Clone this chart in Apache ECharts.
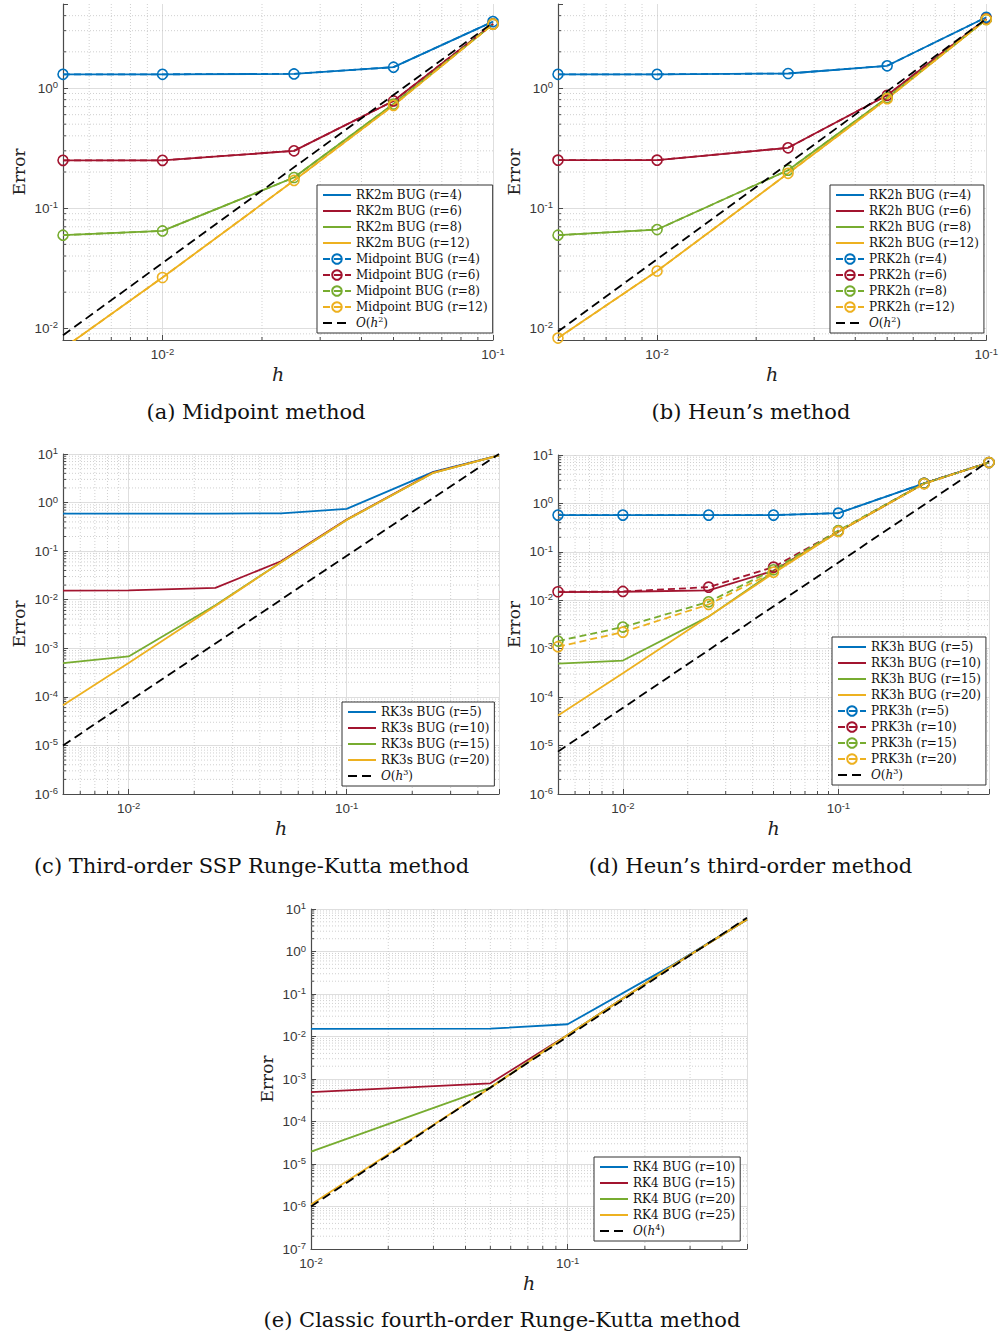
<!DOCTYPE html>
<html>
<head>
<meta charset="utf-8">
<script src="https://cdn.jsdelivr.net/npm/echarts@6/dist/echarts.min.js"></script>
<style>
  html, body { margin: 0; padding: 0; background: #fff; }
  #chart { width: 1001px; height: 1338px; }
</style>
</head>
<body>
<div id="chart"></div>
<script>
// Colours of the four rank levels (blue, red, green, yellow)
const BLUE = '#0072BD', RED = '#A2142F', GREEN = '#77AC30', YELLOW = '#EDB120';

// ---------- (a) Midpoint method ----------
const hA = [0.005, 0.01, 0.025, 0.05, 0.1];
const rk2m_r4  = [1.30, 1.30, 1.31, 1.49, 3.57];
const rk2m_r6  = [0.25, 0.25, 0.30, 0.78, 3.41];
const rk2m_r8  = [0.0596, 0.0647, 0.180, 0.735, 3.40];
const rk2m_r12 = [0.0068, 0.0265, 0.170, 0.717, 3.40];
const mid_r4   = [1.30, 1.30, 1.31, 1.49, 3.57];
const mid_r6   = [0.25, 0.25, 0.30, 0.78, 3.41];
const mid_r8   = [0.0596, 0.0647, 0.180, 0.735, 3.40];
const mid_r12  = [0.0068, 0.0265, 0.170, 0.717, 3.40];
const refA_h   = [0.005, 0.1];
const refA     = [0.00875, 3.5];

// ---------- (b) Heun's method ----------
const hB = [0.005, 0.01, 0.025, 0.05, 0.1];
const rk2h_r4  = [1.30, 1.30, 1.32, 1.53, 3.88];
const rk2h_r6  = [0.251, 0.251, 0.318, 0.87, 3.76];
const rk2h_r8  = [0.0596, 0.0664, 0.207, 0.83, 3.72];
const rk2h_r12 = [0.0083, 0.030, 0.195, 0.815, 3.72];
const prk2h_r4  = [1.30, 1.30, 1.32, 1.53, 3.88];
const prk2h_r6  = [0.251, 0.251, 0.318, 0.87, 3.76];
const prk2h_r8  = [0.0596, 0.0664, 0.207, 0.83, 3.72];
const prk2h_r12 = [0.0083, 0.030, 0.195, 0.815, 3.72];
const refB_h   = [0.005, 0.1];
const refB     = [0.0094, 3.76];

// ---------- (c) Third-order SSP Runge-Kutta ----------
const hC = [0.005, 0.01, 0.025, 0.05, 0.1, 0.25, 0.5];
const rk3s_r5  = [0.593, 0.593, 0.593, 0.60, 0.74, 4.3, 9.4];
const rk3s_r10 = [0.0154, 0.0155, 0.0175, 0.062, 0.447, 4.2, 9.4];
const rk3s_r15 = [0.000497, 0.00068, 0.0077, 0.059, 0.44, 4.1, 9.4];
const rk3s_r20 = [0.000067, 0.00050, 0.0074, 0.059, 0.44, 4.1, 9.4];
const refC_h   = [0.005, 0.5];
const refC     = [0.00001, 10];

// ---------- (d) Heun's third-order ----------
const hD = [0.005, 0.01, 0.025, 0.05, 0.1, 0.25, 0.5];
const rk3h_r5   = [0.574, 0.574, 0.574, 0.574, 0.63, 2.6, 7.0];
const rk3h_r10  = [0.0148, 0.0150, 0.016, 0.0407, 0.26, 2.6, 7.0];
const rk3h_r15  = [0.00049, 0.00057, 0.0046, 0.039, 0.26, 2.6, 7.0];
const rk3h_r20  = [0.000042, 0.00031, 0.0046, 0.036, 0.26, 2.55, 7.0];
const prk3h_r5  = [0.574, 0.574, 0.574, 0.574, 0.63, 2.6, 7.0];
const prk3h_r10 = [0.0150, 0.0152, 0.0187, 0.0484, 0.268, 2.6, 7.0];
const prk3h_r15 = [0.00144, 0.0028, 0.0093, 0.0427, 0.275, 2.6, 7.0];
const prk3h_r20 = [0.0011, 0.0022, 0.0082, 0.038, 0.264, 2.55, 7.0];
const refD_h    = [0.005, 0.5];
const refD      = [0.0000075, 7.5];

// ---------- (e) Classic fourth-order Runge-Kutta ----------
const hE = [0.01, 0.05, 0.1, 0.25, 0.5];
const rk4_r10 = [0.0151, 0.0153, 0.0194, 0.44, 5.7];
const rk4_r15 = [0.00049, 0.00079, 0.0109, 0.42, 5.7];
const rk4_r20 = [0.0000195, 0.00063, 0.0109, 0.42, 5.7];
const rk4_r25 = [0.00000112, 0.00062, 0.0108, 0.42, 5.7];
const refE_h  = [0.01, 0.5];
const refE    = [0.000001, 6.25];

// Axis ranges of the five panels
const xRanges = [[0.005, 0.1], [0.005, 0.1], [0.005, 0.5], [0.005, 0.5], [0.01, 0.5]];
const yRanges = [[0.008, 5], [0.008, 5], [1e-6, 10], [1e-6, 10], [1e-7, 10]];

// Panel boxes in pixels
const boxes = [
  { left: 63,  top: 4,   width: 430, height: 336 },
  { left: 558, top: 4,   width: 429, height: 336 },
  { left: 63,  top: 454, width: 436, height: 340 },
  { left: 558, top: 455, width: 431, height: 339 },
  { left: 311, top: 909, width: 436, height: 340 }
];

const LABEL_FONT = 'Liberation Sans';
const SERIF = 'DejaVu Serif';
const AXIS_COLOR = '#4a4a4a';

function powLabel(v) {
  const e = Math.log10(v);
  const r = Math.round(e);
  if (Math.abs(e - r) > 1e-6) return '';
  return '{b|10}{s|' + r + '}';
}
const tickRich = {
  b: { fontSize: 13.5, fontFamily: LABEL_FONT, color: '#383838', lineHeight: 17 },
  s: { fontSize: 9.5, fontFamily: LABEL_FONT, color: '#383838', verticalAlign: 'top' }
};

function pairs(h, y) { return h.map((x, i) => [x, y[i]]); }

function solid(name, h, y, color, idx) {
  return {
    type: 'line', name, xAxisIndex: idx, yAxisIndex: idx, data: pairs(h, y),
    symbol: 'none', z: 3,
    lineStyle: { color, width: 1.8, type: 'solid' },
    itemStyle: { color },
    emphasis: { disabled: true }
  };
}
function marked(name, h, y, color, idx) {
  return {
    type: 'line', name, xAxisIndex: idx, yAxisIndex: idx, data: pairs(h, y),
    symbol: 'circle', symbolSize: 10, showAllSymbol: true, z: 3,
    lineStyle: { color, width: 1.8, type: [7, 4] },
    itemStyle: { color: 'rgba(255,255,255,0)', borderColor: color, borderWidth: 1.6 },
    emphasis: { disabled: true }
  };
}
function refLine(name, h, y, idx) {
  return {
    type: 'line', name, xAxisIndex: idx, yAxisIndex: idx, data: pairs(h, y),
    symbol: 'none', z: 4,
    lineStyle: { color: '#000', width: 1.8, type: [9, 5] },
    itemStyle: { color: '#000' },
    emphasis: { disabled: true }
  };
}

// Minor (2..9 per decade) grid lines and ticks on the log axes
function minorValues(lo, hi) {
  const out = [];
  for (let d = Math.floor(Math.log10(lo)); d <= Math.ceil(Math.log10(hi)); d++) {
    for (let k = 2; k <= 9; k++) {
      const v = k * Math.pow(10, d);
      if (v > lo * 1.0001 && v < hi * 0.9999) out.push(v);
    }
  }
  return out;
}
function minorGrid(idx, dir) {
  const xr = xRanges[idx], yr = yRanges[idx];
  const vals = dir === 'x' ? minorValues(xr[0], xr[1]) : minorValues(yr[0], yr[1]);
  return {
    type: 'custom', xAxisIndex: idx, yAxisIndex: idx, silent: true, z: 1,
    data: vals.map(v => dir === 'x' ? [v, yr[0]] : [xr[0], v]),
    renderItem(params, api) {
      const cs = params.coordSys;
      const p = api.coord([api.value(0), api.value(1)]);
      const dotted = { stroke: '#c4c4c4', lineWidth: 0.8, lineDash: [1, 2] };
      const tick = { stroke: AXIS_COLOR, lineWidth: 1 };
      if (dir === 'x') {
        return { type: 'group', children: [
          { type: 'line', shape: { x1: p[0], y1: cs.y, x2: p[0], y2: cs.y + cs.height }, style: dotted },
          { type: 'line', shape: { x1: p[0], y1: cs.y + cs.height, x2: p[0], y2: cs.y + cs.height - 3 }, style: tick }
        ] };
      }
      return { type: 'group', children: [
        { type: 'line', shape: { x1: cs.x, y1: p[1], x2: cs.x + cs.width, y2: p[1] }, style: dotted },
        { type: 'line', shape: { x1: cs.x, y1: p[1], x2: cs.x + 3, y2: p[1] }, style: tick }
      ] };
    }
  };
}

const grids = boxes.map(b => ({ left: b.left, top: b.top, width: b.width, height: b.height, containLabel: false }));

const xAxes = xRanges.map((r, i) => ({
  type: 'log', logBase: 10, gridIndex: i, min: r[0], max: r[1],
  name: 'h', nameLocation: 'middle', nameGap: 24,
  nameTextStyle: { fontFamily: SERIF, fontStyle: 'italic', fontSize: 19, color: '#222' },
  axisLine: { show: true, lineStyle: { color: AXIS_COLOR, width: 1.2 } },
  axisTick: { show: true, inside: true, length: 5, lineStyle: { color: AXIS_COLOR } },
  axisLabel: { formatter: powLabel, margin: 6, rich: tickRich, showMinLabel: true, showMaxLabel: true },
  splitLine: { show: true, lineStyle: { color: '#dedede', width: 1 } },
  minorTick: { show: false }
}));

const yAxes = yRanges.map((r, i) => ({
  type: 'log', logBase: 10, gridIndex: i, min: r[0], max: r[1],
  name: 'Error', nameLocation: 'middle', nameGap: 36,
  nameTextStyle: { fontFamily: SERIF, fontSize: 17, color: '#222' },
  axisLine: { show: true, lineStyle: { color: AXIS_COLOR, width: 1.2 } },
  axisTick: { show: true, inside: true, length: 5, lineStyle: { color: AXIS_COLOR } },
  axisLabel: { formatter: powLabel, margin: 5, rich: tickRich },
  splitLine: { show: true, showMaxLine: i > 1, lineStyle: { color: '#dedede', width: 1 } }
}));

const series = [];
for (let i = 0; i < 5; i++) { series.push(minorGrid(i, 'x'), minorGrid(i, 'y')); }

// (a)
series.push(
  solid('RK2m BUG (r=4)', hA, rk2m_r4, BLUE, 0),
  solid('RK2m BUG (r=6)', hA, rk2m_r6, RED, 0),
  solid('RK2m BUG (r=8)', hA, rk2m_r8, GREEN, 0),
  solid('RK2m BUG (r=12)', hA, rk2m_r12, YELLOW, 0),
  marked('Midpoint BUG (r=4)', hA, mid_r4, BLUE, 0),
  marked('Midpoint BUG (r=6)', hA, mid_r6, RED, 0),
  marked('Midpoint BUG (r=8)', hA, mid_r8, GREEN, 0),
  marked('Midpoint BUG (r=12)', hA, mid_r12, YELLOW, 0),
  refLine('O(h^2)', refA_h, refA, 0)
);
// (b)
series.push(
  solid('RK2h BUG (r=4)', hB, rk2h_r4, BLUE, 1),
  solid('RK2h BUG (r=6)', hB, rk2h_r6, RED, 1),
  solid('RK2h BUG (r=8)', hB, rk2h_r8, GREEN, 1),
  solid('RK2h BUG (r=12)', hB, rk2h_r12, YELLOW, 1),
  marked('PRK2h (r=4)', hB, prk2h_r4, BLUE, 1),
  marked('PRK2h (r=6)', hB, prk2h_r6, RED, 1),
  marked('PRK2h (r=8)', hB, prk2h_r8, GREEN, 1),
  marked('PRK2h (r=12)', hB, prk2h_r12, YELLOW, 1),
  refLine('O(h^2)', refB_h, refB, 1)
);
// (c)
series.push(
  solid('RK3s BUG (r=5)', hC, rk3s_r5, BLUE, 2),
  solid('RK3s BUG (r=10)', hC, rk3s_r10, RED, 2),
  solid('RK3s BUG (r=15)', hC, rk3s_r15, GREEN, 2),
  solid('RK3s BUG (r=20)', hC, rk3s_r20, YELLOW, 2),
  refLine('O(h^3)', refC_h, refC, 2)
);
// (d)
series.push(
  solid('RK3h BUG (r=5)', hD, rk3h_r5, BLUE, 3),
  solid('RK3h BUG (r=10)', hD, rk3h_r10, RED, 3),
  solid('RK3h BUG (r=15)', hD, rk3h_r15, GREEN, 3),
  solid('RK3h BUG (r=20)', hD, rk3h_r20, YELLOW, 3),
  marked('PRK3h (r=5)', hD, prk3h_r5, BLUE, 3),
  marked('PRK3h (r=10)', hD, prk3h_r10, RED, 3),
  marked('PRK3h (r=15)', hD, prk3h_r15, GREEN, 3),
  marked('PRK3h (r=20)', hD, prk3h_r20, YELLOW, 3),
  refLine('O(h^3)', refD_h, refD, 3)
);
// (e)
series.push(
  solid('RK4 BUG (r=10)', hE, rk4_r10, BLUE, 4),
  solid('RK4 BUG (r=15)', hE, rk4_r15, RED, 4),
  solid('RK4 BUG (r=20)', hE, rk4_r20, GREEN, 4),
  solid('RK4 BUG (r=25)', hE, rk4_r25, YELLOW, 4),
  refLine('O(h^4)', refE_h, refE, 4)
);

// One legend per panel
const legendNames = [
  ['RK2m BUG (r=4)', 'RK2m BUG (r=6)', 'RK2m BUG (r=8)', 'RK2m BUG (r=12)',
   'Midpoint BUG (r=4)', 'Midpoint BUG (r=6)', 'Midpoint BUG (r=8)', 'Midpoint BUG (r=12)', 'O(h^2)'],
  ['RK2h BUG (r=4)', 'RK2h BUG (r=6)', 'RK2h BUG (r=8)', 'RK2h BUG (r=12)',
   'PRK2h (r=4)', 'PRK2h (r=6)', 'PRK2h (r=8)', 'PRK2h (r=12)', 'O(h^2)'],
  ['RK3s BUG (r=5)', 'RK3s BUG (r=10)', 'RK3s BUG (r=15)', 'RK3s BUG (r=20)', 'O(h^3)'],
  ['RK3h BUG (r=5)', 'RK3h BUG (r=10)', 'RK3h BUG (r=15)', 'RK3h BUG (r=20)',
   'PRK3h (r=5)', 'PRK3h (r=10)', 'PRK3h (r=15)', 'PRK3h (r=20)', 'O(h^3)'],
  ['RK4 BUG (r=10)', 'RK4 BUG (r=15)', 'RK4 BUG (r=20)', 'RK4 BUG (r=25)', 'O(h^4)']
];
// Names drawn as plain lines (no marker in the legend key)
const lineOnly = new Set(series.filter(s => s.type === 'line' && s.symbol === 'none').map(s => s.name));
const legendPos = [[317, 185], [830, 185], [342, 702], [832, 637], [594, 1157]];

function legendText(name) {
  const m = name.match(/^O\(h\^(\d)\)$/);
  if (m) return '{i|O}({i|h}{s|' + m[1] + '})';
  return name;
}
const legends = legendNames.map((names, i) => ({
  data: names.map(n => lineOnly.has(n) ? { name: n, itemStyle: { opacity: 0 } } : { name: n }),
  orient: 'vertical', left: legendPos[i][0], top: legendPos[i][1],
  itemWidth: 28, itemHeight: 12, itemGap: 0, padding: [2, 5, 2, 5],
  backgroundColor: '#fff', borderColor: '#333', borderWidth: 1, borderRadius: 0,
  selectedMode: false, z: 10,
  formatter: legendText,
  textStyle: {
    fontFamily: SERIF, fontSize: 12, color: '#111', lineHeight: 16,
    rich: {
      i: { fontFamily: SERIF, fontSize: 12, fontStyle: 'italic', color: '#111', lineHeight: 16 },
      s: { fontFamily: SERIF, fontSize: 8, color: '#111', verticalAlign: 'top' }
    }
  }
}));

// Sub-figure captions
const captions = [
  ['(a) Midpoint method', 256, 412],
  ['(b) Heun\u2019s method', 751, 412],
  ['(c) Third-order SSP Runge-Kutta method', 251.5, 866],
  ['(d) Heun\u2019s third-order method', 750.5, 866],
  ['(e) Classic fourth-order Runge-Kutta method', 502, 1320]
];
const graphics = captions.map(c => ({
  type: 'text', x: c[1], y: c[2], silent: true,
  style: {
    text: c[0], fill: '#111', font: '21px "' + SERIF + '"',
    textAlign: 'center', textVerticalAlign: 'middle', align: 'center', verticalAlign: 'middle'
  }
}));

const chart = echarts.init(document.getElementById('chart'), null, { renderer: 'svg' });
chart.setOption({
  animation: false,
  backgroundColor: '#fff',
  grid: grids,
  xAxis: xAxes,
  yAxis: yAxes,
  legend: legends,
  series,
  graphic: graphics
});
</script>
</body>
</html>
